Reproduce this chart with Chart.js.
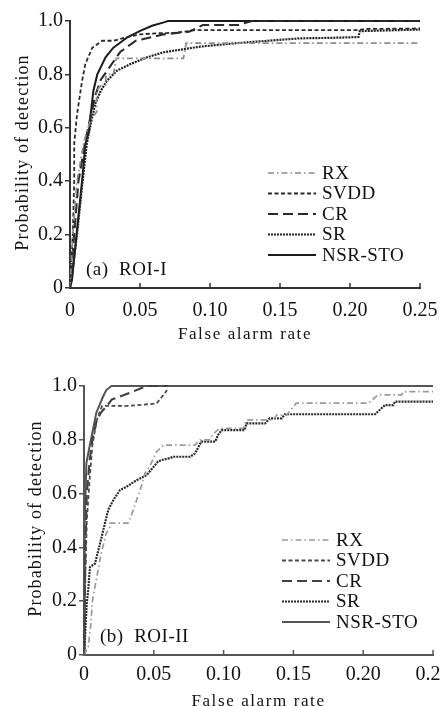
<!DOCTYPE html>
<html>
<head>
<meta charset="utf-8">
<script src="https://cdn.jsdelivr.net/npm/chart.js@4.4.0/dist/chart.umd.min.js"></script>
<style>
  html, body { margin: 0; padding: 0; background: #fff; }
  body { width: 440px; height: 706px; overflow: hidden; position: relative; }
  canvas { position: absolute; left: 0; }
  #roi1 { top: 0; }
  #roi2 { top: 350px; }
</style>
</head>
<body>
<canvas id="roi1" width="480" height="350"></canvas>
<canvas id="roi2" width="480" height="356"></canvas>
<script>
// ticks
const xTicks = [0, 0.05, 0.10, 0.15, 0.20, 0.25];
const xTickLabels = ['0', '0.05', '0.10', '0.15', '0.20', '0.25'];
const yTicks = [0, 0.2, 0.4, 0.6, 0.8, 1.0];
const yTickLabels = ['0', '0.2', '0.4', '0.6', '0.8', '1.0'];
const methods = ['RX', 'SVDD', 'CR', 'SR', 'NSR-STO'];

// (a) ROI-I  [false alarm rate, probability of detection]
const roi1RX = [[0,0],[0.002,0.2],[0.005,0.4],[0.01,0.55],[0.014,0.62],[0.019,0.66],[0.019,0.74],[0.022,0.757],[0.0255,0.76],[0.0255,0.79],[0.027,0.80],[0.031,0.80],[0.033,0.86],[0.081,0.86],[0.083,0.917],[0.25,0.917]];
const roi1SVDD = [[0,0],[0.002,0.2],[0.003,0.4],[0.003,0.54],[0.005,0.65],[0.0086,0.775],[0.011,0.84],[0.016,0.90],[0.023,0.926],[0.031,0.926],[0.041,0.94],[0.05,0.95],[0.062,0.954],[0.075,0.956],[0.09,0.966],[0.206,0.966],[0.21,0.97],[0.25,0.972]];
const roi1CR = [[0,0],[0.003,0.2],[0.006,0.4],[0.011,0.55],[0.015,0.65],[0.018,0.72],[0.022,0.78],[0.026,0.81],[0.036,0.885],[0.047,0.926],[0.059,0.94],[0.067,0.95],[0.085,0.96],[0.095,0.985],[0.12,0.985],[0.13,1.0],[0.25,1.0]];
const roi1SR = [[0,0],[0.0015,0.05],[0.005,0.2],[0.009,0.4],[0.012,0.54],[0.0148,0.614],[0.018,0.689],[0.022,0.739],[0.0264,0.776],[0.0335,0.814],[0.0433,0.839],[0.055,0.864],[0.067,0.883],[0.093,0.904],[0.117,0.916],[0.141,0.926],[0.164,0.935],[0.188,0.937],[0.206,0.94],[0.207,0.962],[0.25,0.968]];
const roi1NSR = [[0,0],[0.0014,0.03],[0.005,0.217],[0.0086,0.40],[0.011,0.54],[0.0136,0.59],[0.0148,0.652],[0.0167,0.739],[0.0195,0.80],[0.0255,0.865],[0.031,0.90],[0.041,0.939],[0.0505,0.964],[0.0586,0.982],[0.067,0.995],[0.07,1.0],[0.25,1.0]];

// (b) ROI-II
const roi2RX = [[0,0],[0.003,0.03],[0.005,0.12],[0.006,0.2],[0.0088,0.28],[0.0124,0.38],[0.016,0.453],[0.0186,0.476],[0.0186,0.49],[0.0315,0.49],[0.034,0.52],[0.041,0.626],[0.0437,0.677],[0.047,0.70],[0.052,0.756],[0.057,0.78],[0.0795,0.78],[0.083,0.80],[0.09,0.80],[0.092,0.818],[0.097,0.843],[0.114,0.843],[0.1165,0.874],[0.1356,0.874],[0.138,0.892],[0.145,0.892],[0.151,0.929],[0.152,0.936],[0.2037,0.936],[0.2106,0.967],[0.2276,0.967],[0.2286,0.979],[0.25,0.979]];
const roi2SVDD = [[0,0],[0.001,0.3],[0.002,0.5],[0.004,0.65],[0.006,0.78],[0.009,0.87],[0.011,0.9],[0.013,0.926],[0.032,0.926],[0.052,0.935],[0.058,0.974],[0.0595,0.985]];
const roi2CR = [[0,0],[0.001,0.4],[0.002,0.6],[0.004,0.72],[0.006,0.8],[0.009,0.87],[0.012,0.9],[0.017,0.93],[0.02,0.95],[0.033,0.975],[0.04,0.99],[0.045,1.0],[0.06,1.0]];
const roi2SR = [[0,0],[0.001,0.1],[0.002,0.193],[0.003,0.24],[0.0043,0.327],[0.0079,0.34],[0.0103,0.39],[0.0127,0.44],[0.015,0.49],[0.0174,0.54],[0.021,0.576],[0.0258,0.613],[0.0306,0.626],[0.0377,0.65],[0.045,0.669],[0.048,0.688],[0.053,0.719],[0.0557,0.725],[0.0616,0.732],[0.064,0.737],[0.076,0.737],[0.0795,0.749],[0.084,0.793],[0.094,0.793],[0.096,0.818],[0.0986,0.836],[0.115,0.836],[0.1165,0.861],[0.1297,0.861],[0.133,0.88],[0.1416,0.88],[0.144,0.895],[0.2085,0.895],[0.2106,0.905],[0.2156,0.929],[0.2214,0.929],[0.2228,0.942],[0.25,0.942]];
const roi2NSR = [[0,0],[0.0005,0.5],[0.0017,0.713],[0.004,0.775],[0.0064,0.837],[0.0088,0.90],[0.0112,0.93],[0.0136,0.96],[0.016,0.985],[0.0196,1.0],[0.25,1.0]];

const FONT = '"Liberation Serif", "Times New Roman", serif';

// line look per method
const lineStyles = {
    'RX':      { dash: [6, 3, 1.5, 3], width: 1.7 },
    'SVDD':    { dash: [4, 2.5], width: 1.8 },
    'CR':      { dash: [10, 5], width: 2.1 },
    'SR':      { dash: [2, 1], width: 2.2 },
    'NSR-STO': { dash: [], width: 2 }
};

// axis titles, inward x ticks, panel label, legend
const decorPlugin = {
    id: 'decor',
    afterDraw(chart, args, opts) {
        const ctx = chart.ctx;
        const area = chart.chartArea;
        const xScale = chart.scales.x;
        ctx.save();

        ctx.strokeStyle = opts.axisColor;
        ctx.lineWidth = 1.5;
        xScale.ticks.forEach(t => {
            const px = xScale.getPixelForValue(t.value);
            ctx.beginPath();
            ctx.moveTo(px, area.bottom);
            ctx.lineTo(px, area.bottom - 5);
            ctx.stroke();
        });

        ctx.fillStyle = '#111';
        ctx.font = '17px ' + FONT;
        ctx.letterSpacing = '1.6px';
        ctx.textAlign = 'center';
        ctx.textBaseline = 'alphabetic';
        ctx.fillText('False alarm rate', (area.left + area.right) / 2, area.bottom + 51);

        ctx.save();
        ctx.font = '18px ' + FONT;
        ctx.letterSpacing = '1.1px';
        ctx.translate(opts.yTitleX, (area.top + area.bottom) / 2 - 2);
        ctx.rotate(-Math.PI / 2);
        ctx.textBaseline = 'middle';
        ctx.fillText('Probability of detection', 0, 0);
        ctx.restore();

        ctx.letterSpacing = '0.5px';
        ctx.font = '19px ' + FONT;
        ctx.textAlign = 'left';
        ctx.textBaseline = 'alphabetic';
        ctx.fillText(opts.panel, area.left + 16, area.bottom - 13);

        ctx.textBaseline = 'middle';
        chart.data.datasets.forEach((ds, i) => {
            const y = area.bottom - 115 + i * 20.5;
            ctx.strokeStyle = ds.borderColor;
            ctx.lineWidth = ds.borderWidth;
            ctx.setLineDash(ds.borderDash);
            ctx.beginPath();
            ctx.moveTo(area.left + 198, y);
            ctx.lineTo(area.left + 246, y);
            ctx.stroke();
            ctx.setLineDash([]);
            ctx.fillText(ds.label, area.left + 252, y + 1);
        });
        ctx.restore();
    }
};

function makeChart(id, seriesList, colors, cfg) {
    const datasets = methods.map((name, i) => ({
        label: name,
        data: seriesList[i].map(p => ({ x: p[0], y: p[1] })),
        borderColor: colors[i],
        borderWidth: lineStyles[name].width,
        borderDash: lineStyles[name].dash,
        pointRadius: 0,
        tension: 0,
        fill: false,
        clip: 4
    }));

    return new Chart(document.getElementById(id), {
        type: 'line',
        data: { datasets: datasets },
        options: {
            responsive: false,
            animation: false,
            devicePixelRatio: 1,
            layout: { padding: { top: cfg.top, right: cfg.right, bottom: 0, left: 0 } },
            plugins: {
                legend: { display: false },
                tooltip: { enabled: false },
                decor: { axisColor: cfg.axisColor, yTitleX: cfg.yTitleX, panel: cfg.panel }
            },
            scales: {
                x: {
                    type: 'linear',
                    min: 0,
                    max: 0.25,
                    afterBuildTicks: s => { s.ticks = xTicks.map(v => ({ value: v })); },
                    afterFit: s => { s.height = cfg.xHeight; },
                    grid: { display: false },
                    border: { display: true, color: cfg.axisColor, width: 2 },
                    ticks: {
                        color: '#111',
                        font: { family: FONT, size: 20 },
                        padding: cfg.xPad,
                        maxRotation: 0,
                        callback: (v, i) => xTickLabels[i]
                    }
                },
                y: {
                    min: 0,
                    max: 1,
                    afterBuildTicks: s => { s.ticks = yTicks.map(v => ({ value: v })); },
                    afterFit: s => { s.width = cfg.left; },
                    grid: { drawOnChartArea: false, drawTicks: true, tickLength: 5, color: cfg.axisColor, lineWidth: 1.5 },
                    border: { display: true, color: cfg.axisColor, width: 2 },
                    ticks: {
                        color: '#111',
                        font: { family: FONT, size: 20 },
                        padding: 2,
                        callback: (v, i) => yTickLabels[i]
                    }
                }
            }
        },
        plugins: [decorPlugin]
    });
}

makeChart('roi1', [roi1RX, roi1SVDD, roi1CR, roi1SR, roi1NSR],
    ['#8c8c8c', '#2a2a2a', '#2a2a2a', '#222', '#1a1a1a'],
    { top: 21, right: 60, left: 70, xHeight: 62, xPad: 3, axisColor: '#333', yTitleX: 23, panel: '(a)  ROI-I' });

makeChart('roi2', [roi2RX, roi2SVDD, roi2CR, roi2SR, roi2NSR],
    ['#9a9a9a', '#4a4a4a', '#404040', '#2a2a2a', '#555'],
    { top: 36, right: 47, left: 84, xHeight: 51, xPad: 0, axisColor: '#555', yTitleX: 36, panel: '(b)  ROI-II' });
</script>
</body>
</html>
